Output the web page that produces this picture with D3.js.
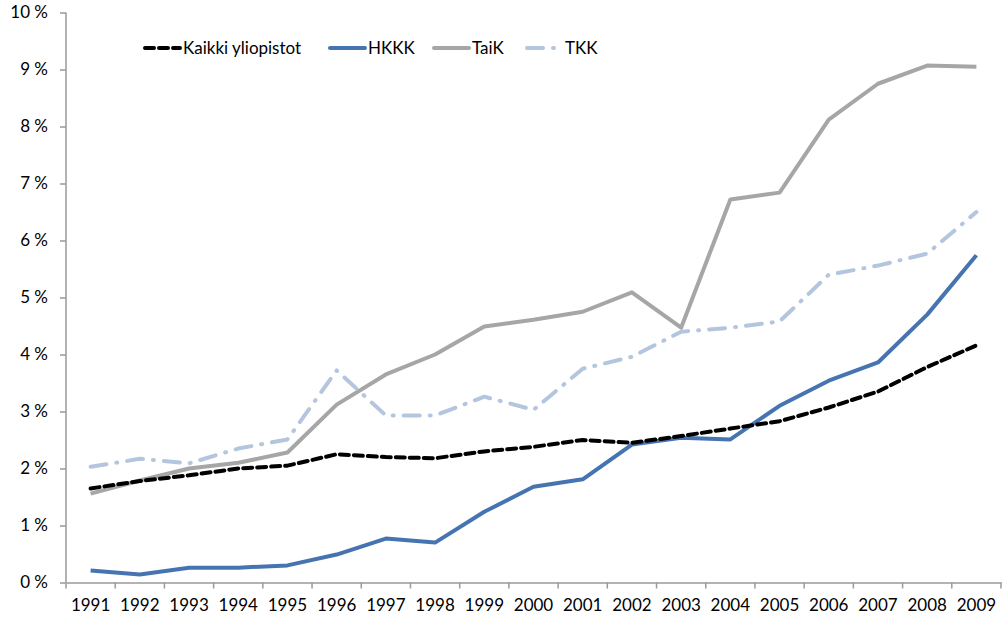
<!DOCTYPE html>
<html lang="fi">
<head>
<meta charset="utf-8">
<title>Yliopistot</title>
<script src="https://d3js.org/d3.v7.min.js"></script>
<style>
  body { margin: 0; background: #fff; }
  svg { display: block; }
  text { font-family: Lato, "Open Sans", sans-serif; font-size: 17px; fill: #000; }
</style>
</head>
<body>
<svg width="1002" height="618"></svg>
<script>
const years = ["1991","1992","1993","1994","1995","1996","1997","1998","1999","2000",
               "2001","2002","2003","2004","2005","2006","2007","2008","2009"];
const kaikki = [1.65,1.78,1.88,2.0,2.05,2.25,2.2,2.18,2.3,2.38,2.5,2.45,2.57,2.7,2.83,3.07,3.35,3.78,4.16];
const hkkk   = [0.21,0.14,0.26,0.26,0.3,0.49,0.77,0.7,1.24,1.68,1.81,2.42,2.54,2.51,3.1,3.54,3.86,4.7,5.74];
const taik   = [1.56,1.79,2.0,2.1,2.28,3.12,3.65,4.0,4.49,4.61,4.75,5.09,4.47,6.72,6.84,8.12,8.75,9.07,9.05];
const tkk    = [2.03,2.17,2.09,2.35,2.51,3.72,2.93,2.93,3.26,3.03,3.75,3.96,4.4,4.47,4.58,5.4,5.56,5.77,6.5];
const yTicks = [0,1,2,3,4,5,6,7,8,9,10];

const series = [
  {name: "Kaikki yliopistot", values: kaikki, color: "#000000", dash: "9,5"},
  {name: "HKKK", values: hkkk, color: "#4674b1", dash: null},
  {name: "TaiK", values: taik, color: "#a6a6a6", dash: null},
  {name: "TKK", values: tkk, color: "#b4c5de", dash: "16,10,1,10"}
];

const svg = d3.select("svg");
const mLeft = 66, mRight = 1001, mTop = 12.5, mBottom = 582.5;

const x = d3.scaleBand().domain(years).range([mLeft, mRight]);
const y = d3.scaleLinear().domain([0, 10]).range([mBottom, mTop]);

// axes
const xAxis = svg.append("g")
  .attr("transform", `translate(0,${mBottom})`)
  .call(d3.axisBottom(x).tickSize(0).tickPadding(16));
xAxis.select(".domain").attr("stroke", "#9a9a9a").attr("stroke-width", 1.5);
xAxis.selectAll("text").style("font-size", "17px").attr("font-family", null);

// band boundary ticks
svg.append("g").selectAll("line")
  .data(years.concat(["end"]))
  .join("line")
  .attr("x1", (d, i) => mLeft + i * x.step())
  .attr("x2", (d, i) => mLeft + i * x.step())
  .attr("y1", mBottom).attr("y2", mBottom + 6)
  .attr("stroke", "#9a9a9a").attr("stroke-width", 1.5);

const yAxis = svg.append("g")
  .attr("transform", `translate(${mLeft},0)`)
  .call(d3.axisLeft(y).tickValues(yTicks).tickSize(6).tickPadding(12).tickFormat(d => d + " %"));
yAxis.select(".domain").attr("stroke", "#9a9a9a").attr("stroke-width", 1.5).attr("d", `M0,${mTop}V${mBottom}`);
yAxis.selectAll(".tick line").attr("stroke", "#9a9a9a").attr("stroke-width", 1.5);
yAxis.selectAll("text").style("font-size", "17px").attr("font-family", null);
xAxis.selectAll(".tick line").remove();

// lines
const line = d3.line()
  .x((d, i) => x(years[i]) + x.bandwidth() / 2)
  .y(d => y(d));

svg.append("g").selectAll("path")
  .data([series[2], series[3], series[1], series[0]])
  .join("path")
  .attr("d", d => line(d.values))
  .attr("fill", "none")
  .attr("stroke", d => d.color)
  .attr("stroke-width", 4)
  .attr("stroke-linejoin", "round")
  .attr("stroke-linecap", d => d.dash ? "round" : "butt")
  .attr("stroke-dasharray", d => d.dash);

// legend
const legendX = [143, 328, 432, 525];
const lg = svg.append("g").selectAll("g")
  .data(series)
  .join("g")
  .attr("transform", (d, i) => `translate(${legendX[i]},48)`);
lg.append("line")
  .attr("x1", 2).attr("x2", 37)
  .attr("stroke", d => d.color)
  .attr("stroke-width", 4)
  .attr("stroke-linecap", "round")
  .attr("stroke-dasharray", d => d.dash);
lg.append("text")
  .attr("x", 40).attr("dy", "0.35em")
  .text(d => d.name);
</script>
</body>
</html>
